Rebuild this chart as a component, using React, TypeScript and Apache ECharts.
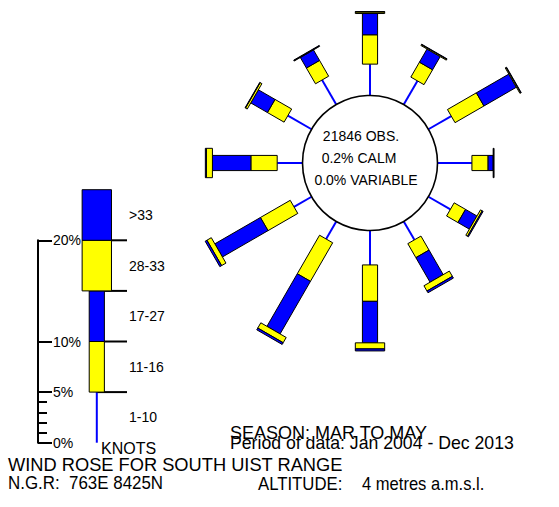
import React, { useEffect, useRef } from "react";
import * as echarts from "echarts";

// ---------- data (percent of observations) ----------
const directions = [0, 30, 60, 90, 120, 150, 180, 210, 240, 270, 300, 330];
const knotClasses = ["1-10", "11-16", "17-27", "28-33", ">33"];
const pct_1_10 = [3.1, 2.7, 2.6, 3.4, 2.5, 2.1, 3.4, 2.0, 2.0, 2.5, 2.7, 2.8];
const pct_11_16 = [2.9, 1.7, 3.3, 1.6, 1.3, 1.6, 3.6, 4.4, 3.4, 2.6, 1.9, 1.8];
const pct_17_27 = [2.1, 1.5, 3.7, 0.5, 1.3, 2.8, 4.1, 6.0, 5.2, 3.8, 1.9, 1.2];
const pct_28_33 = [0.15, 0.1, 0.1, 0.05, 0.2, 0.6, 0.6, 0.6, 0.5, 0.6, 0.2, 0.05];
const pct_over_33 = [0.05, 0.05, 0.05, 0.02, 0.1, 0.2, 0.2, 0.2, 0.2, 0.1, 0.05, 0.05];
const legendSpan = [5, 5, 5, 5, 5];
const scaleLabelValues = [0, 5, 10, 20];
const scaleMinorValues = [1, 2, 3, 4];
const centreLines = ["21846 OBS.", "0.2% CALM", "0.0% VARIABLE"];
const seasonText = "SEASON: MAR TO MAY";
const periodText = "Period of data: Jan 2004 - Dec 2013";
const titleText = "WIND ROSE FOR SOUTH UIST RANGE";
const ngrText = "N.G.R:  763E 8425N";
const altLabel = "ALTITUDE:";
const altValue = "4 metres a.m.s.l.";
const unitsText = "KNOTS";

// ---------- layout ----------
const W = 559;
const H = 507;
const K = 10.12; // px per percent
const CX = 370;
const CY = 163;
const R0 = 67.5 / K; // calm circle radius in percent units
const NARROW = 1.5;
const WIDE = 2.9;
const FONT = '"Liberation Sans", Arial, Helvetica, sans-serif';
const BLUE = "#0000ff";
const YELLOW = "#ffff00";
const classColor = [BLUE, YELLOW, BLUE, YELLOW, BLUE];
const classWidth = [0, NARROW, NARROW, WIDE, WIDE];
const LEG_LEFT = 38;
const LEG_X = (96.8 - LEG_LEFT) / K;
const LEG_TICK_END = (127 - LEG_LEFT) / K;
const LEG_LABEL_X = (129 - LEG_LEFT) / K;

const classSeries = [pct_1_10, pct_11_16, pct_17_27, pct_28_33, pct_over_33];

function buildRoseData() {
  const out: number[][] = [];
  directions.forEach((ang, i) => {
    let r = R0;
    classSeries.forEach((arr, c) => {
      const a = r;
      const b = r + arr[i];
      out.push([ang, a, b, c]);
      r = b;
    });
  });
  return out;
}

function buildLegendData() {
  const out: number[][] = [];
  let r = 0;
  legendSpan.forEach((s, c) => {
    out.push([c, r, r + s]);
    r += s;
  });
  return out;
}

function label(text: string, x: number, y: number, size: number, scaleX = 1) {
  return {
    type: "text",
    x,
    y,
    scaleX,
    style: { text, font: `${size}px ${FONT}`, fill: "#000", verticalAlign: "middle" },
  };
}

export default function App() {
  const ref = useRef<HTMLDivElement>(null);
  useEffect(() => {
    if (!ref.current) return;
    const chart = echarts.init(ref.current, null, { renderer: "svg" });
    const roseData = buildRoseData();
    const legendData = buildLegendData();

    const option: any = {
      animation: false,
      backgroundColor: "#ffffff",
      grid: [
        { left: 0, top: 0, width: W, height: H },
        { left: LEG_LEFT, top: 442.7 - 20 * K, width: 8 * K, height: 20 * K },
      ],
      xAxis: [
        { type: "value", gridIndex: 0, min: -CX / K, max: (W - CX) / K, show: false },
        { type: "value", gridIndex: 1, min: 0, max: 8, show: false },
      ],
      yAxis: [
        { type: "value", gridIndex: 0, min: -(H - CY) / K, max: CY / K, show: false },
        {
          type: "value",
          gridIndex: 1,
          min: 0,
          max: 20,
          position: "left",
          axisLine: { show: true, lineStyle: { color: "#000", width: 2 } },
          axisTick: {
            show: true,
            inside: true,
            length: 14,
            customValues: scaleLabelValues,
            lineStyle: { color: "#000", width: 2 },
          },
          axisLabel: {
            show: true,
            inside: true,
            margin: 15,
            customValues: scaleLabelValues,
            formatter: "{value}%",
            color: "#000",
            fontSize: 14,
            fontFamily: FONT,
          },
          splitLine: { show: false },
        },
        {
          type: "value",
          gridIndex: 1,
          min: 0,
          max: 20,
          position: "left",
          axisLine: { show: false },
          axisTick: {
            show: true,
            inside: true,
            length: 9,
            customValues: scaleMinorValues,
            lineStyle: { color: "#000", width: 2 },
          },
          axisLabel: { show: false },
          splitLine: { show: false },
        },
      ],
      series: [
        {
          type: "custom",
          xAxisIndex: 0,
          yAxisIndex: 0,
          data: roseData,
          renderItem: (params: any, api: any) => {
            const ang = api.value(0);
            const a = api.value(1);
            const b = api.value(2);
            const c = api.value(3);
            const t = (ang * Math.PI) / 180;
            const ux = Math.sin(t);
            const uy = Math.cos(t);
            const px = Math.cos(t);
            const py = -Math.sin(t);
            if (c === 0) {
              const p1 = api.coord([a * ux, a * uy]);
              const p2 = api.coord([b * ux, b * uy]);
              return {
                type: "line",
                shape: { x1: p1[0], y1: p1[1], x2: p2[0], y2: p2[1] },
                style: { stroke: BLUE, lineWidth: 2 },
              };
            }
            const h = classWidth[c] / 2;
            const pts = [
              [a * ux + h * px, a * uy + h * py],
              [b * ux + h * px, b * uy + h * py],
              [b * ux - h * px, b * uy - h * py],
              [a * ux - h * px, a * uy - h * py],
            ].map((p) => api.coord(p));
            return {
              type: "polygon",
              shape: { points: pts },
              style: { fill: classColor[c], stroke: "#000", lineWidth: 1 },
            };
          },
          z: 2,
        },
        {
          type: "custom",
          xAxisIndex: 0,
          yAxisIndex: 0,
          data: [[0, 0]],
          renderItem: (params: any, api: any) => {
            const c = api.coord([0, 0]);
            const r = api.size([R0, 0])[0];
            const offsets = [-27, -5, 17];
            const dx = [-9, -11, -4];
            return {
              type: "group",
              children: [
                {
                  type: "circle",
                  shape: { cx: c[0], cy: c[1], r },
                  style: { fill: "#fff", stroke: "#000", lineWidth: 1.6 },
                },
                ...centreLines.map((s, i) => ({
                  type: "text",
                  x: c[0] + dx[i],
                  y: c[1] + offsets[i],
                  style: {
                    text: s,
                    fill: "#000",
                    font: `14px ${FONT}`,
                    align: "center",
                    verticalAlign: "middle",
                  },
                })),
              ],
            };
          },
          z: 3,
        },
        {
          type: "custom",
          xAxisIndex: 1,
          yAxisIndex: 1,
          data: legendData,
          renderItem: (params: any, api: any) => {
            const c = api.value(0);
            const a = api.value(1);
            const b = api.value(2);
            const children: any[] = [];
            if (c < legendSpan.length - 1) {
              const t1 = api.coord([LEG_X, b]);
              const t2 = api.coord([LEG_TICK_END, b]);
              children.push({
                type: "line",
                shape: { x1: t1[0], y1: t1[1], x2: t2[0], y2: t2[1] },
                style: { stroke: "#000", lineWidth: 2 },
              });
            }
            if (c === 0) {
              const p1 = api.coord([LEG_X, a]);
              const p2 = api.coord([LEG_X, b]);
              children.push({
                type: "line",
                shape: { x1: p1[0], y1: p1[1], x2: p2[0], y2: p2[1] },
                style: { stroke: BLUE, lineWidth: 2 },
              });
            } else {
              const h = classWidth[c] / 2;
              const p1 = api.coord([LEG_X - h, b]);
              const p2 = api.coord([LEG_X + h, a]);
              children.push({
                type: "rect",
                shape: { x: p1[0], y: p1[1], width: p2[0] - p1[0], height: p2[1] - p1[1] },
                style: { fill: classColor[c], stroke: "#000", lineWidth: 1 },
              });
            }
            const lp = api.coord([LEG_LABEL_X, (a + b) / 2]);
            children.push({
              type: "text",
              x: lp[0],
              y: lp[1],
              style: {
                text: knotClasses[c],
                fill: "#000",
                font: `14px ${FONT}`,
                align: "left",
                verticalAlign: "middle",
              },
            });
            return { type: "group", children };
          },
          z: 2,
        },
      ],
      graphic: [
        label(unitsText, 101, 448, 16),
        label(seasonText, 230, 433, 18),
        label(periodText, 230, 443, 18, 0.982),
        label(titleText, 8, 465, 18, 1.015),
        label(ngrText, 8, 483.3, 18, 0.94),
        label(altLabel, 258, 483.3, 18, 0.93),
        label(altValue, 362, 483.3, 18, 0.92),
      ],
    };
    chart.setOption(option);
    return () => chart.dispose();
  }, []);
  return (
    <div
      ref={ref}
      style={{ position: "absolute", left: 0, top: 0, width: W, height: H, background: "#fff" }}
    />
  );
}
